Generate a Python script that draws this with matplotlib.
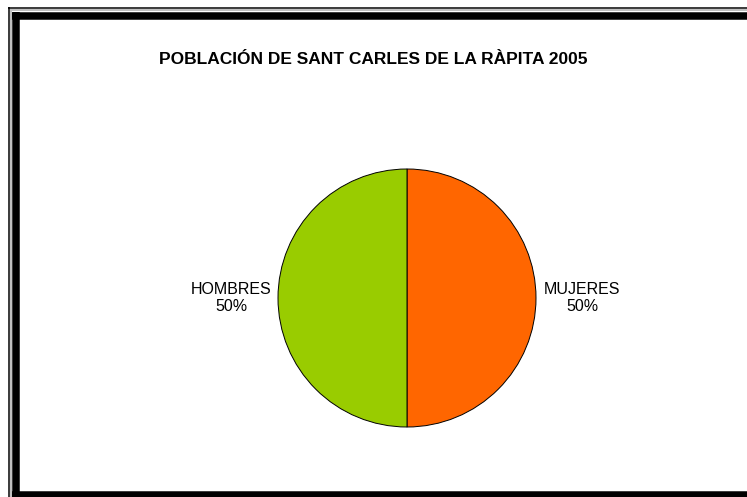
import matplotlib.pyplot as plt
from matplotlib.lines import Line2D

plt.rcParams['font.family'] = ['Liberation Sans', 'DejaVu Sans']

# Data
categories = ['MUJERES', 'HOMBRES']
values = [50, 50]
colors = ['#FF6600', '#99CC00']
title = 'POBLACIÓN DE SANT CARLES DE LA RÀPITA 2005'

W, H = 747, 497
fig = plt.figure(figsize=(W / 100, H / 100), dpi=100)
fig.patch.set_facecolor('white')

# pie axes: centre (407, 298) px, radius 129 px
cx, cy, r = 407, 298, 129
ax = fig.add_axes([(cx - r) / W, 1 - (cy + r) / H, 2 * r / W, 2 * r / H])

total = sum(values)
labels = [f'{c}\n{round(v / total * 100)}%' for c, v in zip(categories, values)]
wedges, texts = ax.pie(values, colors=colors, startangle=90, counterclock=False,
                       labels=labels, labeldistance=1.36,
                       wedgeprops=dict(edgecolor='black', linewidth=0.7),
                       textprops=dict(fontsize=11.5, color='black'))
for t in texts:
    t.set_ha('center')
    t.set_va('center')
    t.set_multialignment('center')
ax.set_xlim(-1, 1)
ax.set_ylim(-1, 1)
ax.set_aspect('equal')
ax.axis('off')

fig.text(373 / W, 1 - 59 / H, title, ha='center', va='center',
         fontsize=12.5, fontweight='bold')

# frame: thin outer line plus thick inner line (left, top, bottom)
def px(x, y):
    return x / W, 1 - y / H

def hline(y, x0, x1, lw, color='black'):
    (a, b), (c, d) = px(x0, y), px(x1, y)
    fig.add_artist(Line2D([a, c], [b, d], color=color, lw=lw * 0.72,
                          solid_capstyle='butt'))

def vline(x, y0, y1, lw, color='black'):
    (a, b), (c, d) = px(x, y0), px(x, y1)
    fig.add_artist(Line2D([a, c], [b, d], color=color, lw=lw * 0.72,
                          solid_capstyle='butt'))

hline(10, 10, W + 5, 2, '#c0c0c0')
vline(10.5, 10, H + 5, 2, '#c0c0c0')
hline(7.5, 7.5, W + 5, 1.5)
vline(8.5, 7, H + 5, 1.5)
hline(15.5, 12, W + 5, 7.5)
vline(15.5, 12, H + 5, 7.5)
hline(494.5, 12, W + 5, 7.5)

fig.savefig('out.png', dpi=100)
